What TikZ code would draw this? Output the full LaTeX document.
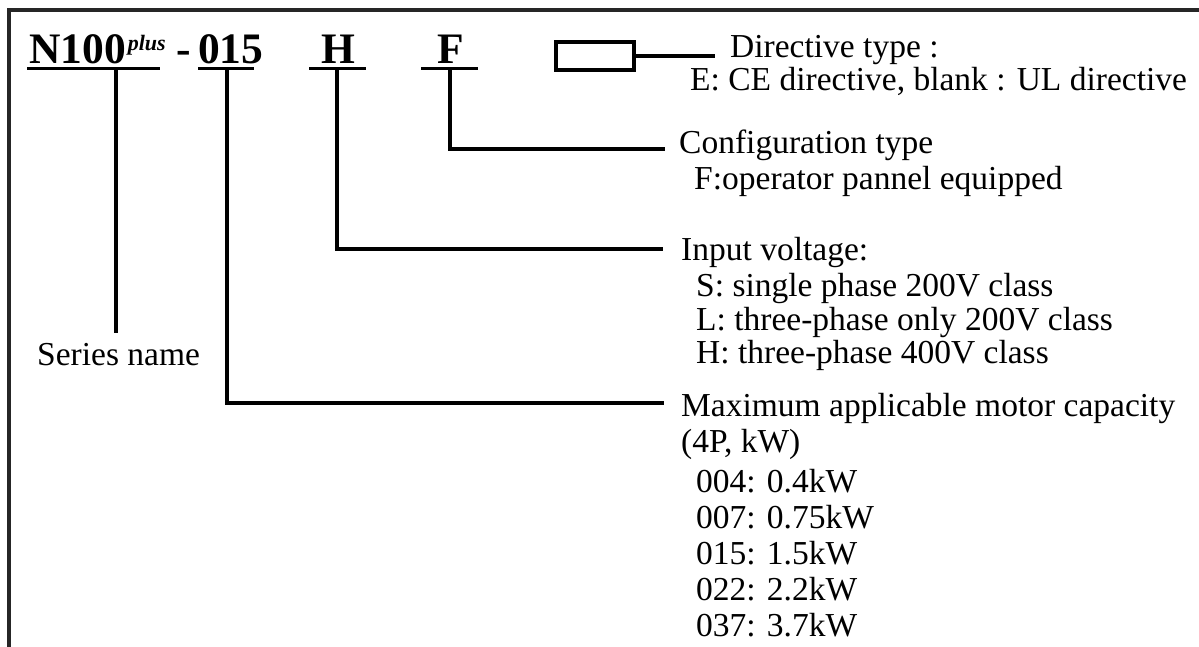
\documentclass[tikz,border=0pt]{standalone}
\usepackage{fontspec}
\setmainfont{Liberation Serif}
\begin{document}
\begin{tikzpicture}[x=1pt,y=-1pt,
  lbl/.style={anchor=base west, inner sep=0pt, font=\fontsize{33.5}{35}\selectfont},
  hdr/.style={anchor=base west, inner sep=0pt, font=\fontsize{43.5}{43.5}\selectfont\bfseries},
  ln/.style={line width=3.6pt, line cap=butt},
  frame/.style={line width=4pt, draw=black!85},
]
\useasboundingbox (0,0) rectangle (1199,647);
% frame (left and top edges)
\draw[frame] (8.5,647) -- (8.5,10) -- (1199,10);

% header code
\node[hdr] (n100) at (29,64) {N100\kern2pt\raisebox{13pt}{\fontsize{22}{22}\selectfont\itshape plus}};
\node[hdr] (dash) at (176,64) {-};
\node[hdr] (c015) at (198,64) {015};
\node[hdr] (cH) at (321,64) {H};
\node[hdr,anchor=base] (cF) at (451,64) {F};

% underlines
\coordinate (u1a) at (27,68.5);  \coordinate (u1b) at (160,68.5);
\coordinate (u2a) at (198,68.5); \coordinate (u2b) at (254,68.5);
\coordinate (u3a) at (309,68.5); \coordinate (u3b) at (366,68.5);
\coordinate (u4a) at (421,68.5); \coordinate (u4b) at (478,68.5);
\draw[ln] (u1a) -- (u1b);
\draw[ln] (u2a) -- (u2b);
\draw[ln] (u3a) -- (u3b);
\draw[ln] (u4a) -- (u4b);

% directive box
\node[draw, line width=3.4pt, minimum width=78pt, minimum height=28pt, inner sep=0pt] (box) at (595,56) {};

% labels
\node[lbl] (dir) at (730,58) {Directive type :};
\node[lbl] (dirv) at (690,91) {E: CE directive, blank : UL directive};
\node[lbl] (conf) at (679,154) {Configuration type};
\node[lbl] (confv) at (694,190) {F:operator pannel equipped};
\node[lbl] (inp) at (681,260) {Input voltage:};
\node[lbl] (inpS) at (696,296) {S: single phase 200V class};
\node[lbl] (inpL) at (696,330) {L: three-phase only 200V class};
\node[lbl] (inpH) at (696,363) {H: three-phase 400V class};
\node[lbl] (ser) at (37,365) {Series name};
\node[lbl] (cap) at (681,416) {Maximum applicable motor capacity};
\node[lbl] (capu) at (681,452) {(4P, kW)};
\node[lbl] (c004) at (696,492) {004: 0.4kW};
\node[lbl] (c007) at (696,528) {007: 0.75kW};
\node[lbl] (c015v) at (696,564) {015: 1.5kW};
\node[lbl] (c022) at (696,600) {022: 2.2kW};
\node[lbl] (c037) at (696,636) {037: 3.7kW};

% connectors
\coordinate (e1) at (715,56);
\coordinate (e2) at (665,149);
\coordinate (e3) at (663,249);
\coordinate (e4) at (664,403);
\draw[ln] (box.east) -- (e1);
\draw[ln] (116,68.5) -- (116,333);
\draw[ln] (227,68.5) |- (e4);
\draw[ln] (337,68.5) |- (e3);
\draw[ln] (450,68.5) |- (e2);
\end{tikzpicture}
\end{document}
